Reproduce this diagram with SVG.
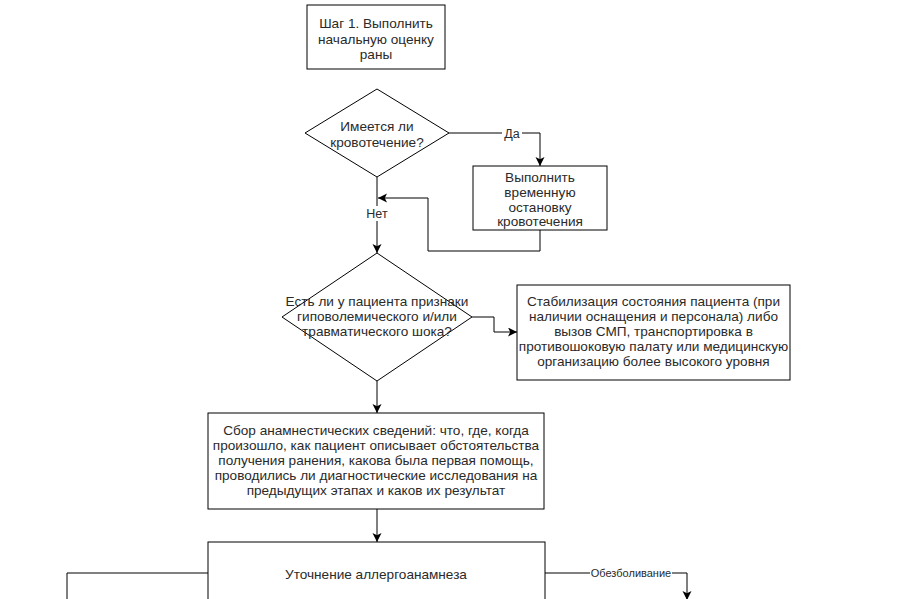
<svg xmlns="http://www.w3.org/2000/svg" width="900" height="599" viewBox="0 0 900 599">
<defs>
<marker id="arr" markerWidth="11" markerHeight="11" refX="9" refY="4.5" orient="auto" markerUnits="userSpaceOnUse">
<path d="M0,0 L9,4.5 L0,9 L2.2,4.5 z" fill="#000"/>
</marker>
<style>
.n{fill:#fff;stroke:#000;stroke-width:1}
.t{font-family:"Liberation Sans",Arial,sans-serif;font-size:13.6px;fill:#2a2a2a;text-anchor:middle}
.c{fill:none;stroke:#000;stroke-width:1}
.a{marker-end:url(#arr)}
.lb{font-family:"Liberation Sans",Arial,sans-serif;font-size:12.5px;fill:#2a2a2a;text-anchor:middle}
.lbs{font-family:"Liberation Sans",Arial,sans-serif;font-size:11px;fill:#2a2a2a;text-anchor:middle}
.bg{fill:#fff}
</style>
</defs>
<rect width="900" height="599" fill="#fff"/>
<g id="connectors">
<path class="c a" d="M449,133 H540 V166"/>
<path class="c a" d="M377,177 V253"/>
<path class="c a" d="M540,230 V251 H428 V198 H378"/>
<path class="c a" d="M472,317 H494 V332 H517"/>
<path class="c a" d="M377,381 V413"/>
<path class="c a" d="M377,509 V542"/>
<path class="c" d="M208,573 H67 V610"/>
<path class="c a" d="M545,573 H687 V600"/>
<rect class="bg" x="502" y="126" width="20" height="15"/>
<text class="lb" x="512" y="138">Да</text>
<rect class="bg" x="364" y="206" width="26" height="15"/>
<text class="lb" x="377" y="218">Нет</text>
<rect class="bg" x="590" y="566" width="82" height="14"/>
<text class="lbs" x="631" y="577">Обезболивание</text>
</g>
<g id="n1">
<rect class="n" x="307" y="5" width="138" height="64"/>
<text class="t" x="376" y="28">Шаг 1. Выполнить</text>
<text class="t" x="376" y="44">начальную оценку</text>
<text class="t" x="376" y="59">раны</text>
</g>
<g id="n2">
<path class="n" d="M377,89 L449,133 L377,177 L305,133 Z"/>
<text class="t" x="377" y="131">Имеется ли</text>
<text class="t" x="377" y="147">кровотечение?</text>
</g>
<g id="n3">
<rect class="n" x="473" y="166" width="134" height="64"/>
<text class="t" x="540" y="182">Выполнить</text>
<text class="t" x="540" y="197">временную</text>
<text class="t" x="540" y="212">остановку</text>
<text class="t" x="540" y="226">кровотечения</text>
</g>
<g id="n4">
<path class="n" d="M377,253 L472,317 L377,381 L282,317 Z"/>
<text class="t" x="377" y="306">Есть ли у пациента признаки</text>
<text class="t" x="377" y="321">гиповолемического и/или</text>
<text class="t" x="377" y="336">травматического шока?</text>
</g>
<g id="n5">
<rect class="n" x="517" y="285" width="273" height="95"/>
<text class="t" x="653.5" y="306">Стабилизация состояния пациента (при</text>
<text class="t" x="653.5" y="321">наличии оснащения и персонала) либо</text>
<text class="t" x="653.5" y="336">вызов СМП, транспортировка в</text>
<text class="t" x="653.5" y="351">противошоковую палату или медицинскую</text>
<text class="t" x="653.5" y="366">организацию более высокого уровня</text>
</g>
<g id="n6">
<rect class="n" x="208" y="413" width="336" height="96"/>
<text class="t" x="376" y="435">Сбор анамнестических сведений: что, где, когда</text>
<text class="t" x="376" y="450">произошло, как пациент описывает обстоятельства</text>
<text class="t" x="376" y="465">получения ранения, какова была первая помощь,</text>
<text class="t" x="376" y="480">проводились ли диагностические исследования на</text>
<text class="t" x="376" y="495">предыдущих этапах и каков их результат</text>
</g>
<g id="n7">
<rect class="n" x="208" y="542" width="337" height="90"/>
<text class="t" x="376" y="579">Уточнение аллергоанамнеза</text>
</g>
</svg>
